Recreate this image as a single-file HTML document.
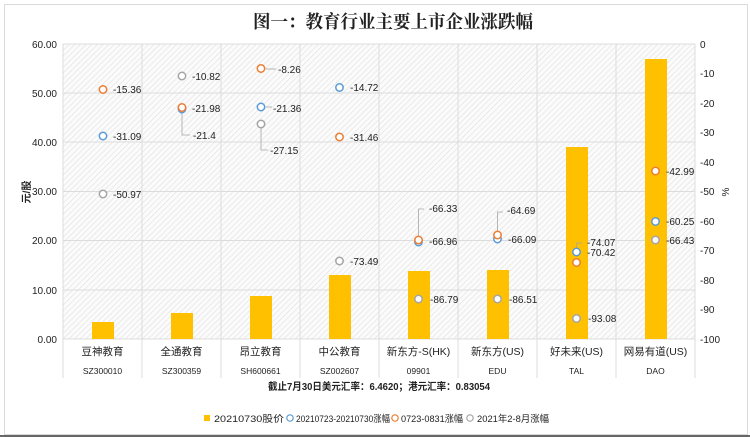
<!DOCTYPE html>
<html><head><meta charset="utf-8"><style>
html,body{margin:0;padding:0;background:#fff;}
svg{display:block;font-family:"Liberation Sans","Noto Sans CJK SC",sans-serif;}
</style></head><body>
<svg width="750" height="437" viewBox="0 0 750 437" xmlns="http://www.w3.org/2000/svg">
<defs>
<pattern id="h" width="4" height="4" patternUnits="userSpaceOnUse" patternTransform="rotate(45)">
<rect width="4" height="4" fill="#fbfbfb"/><line x1="0" y1="0" x2="0" y2="4" stroke="#e0e0e0" stroke-width="1.2"/>
</pattern>
</defs>
<rect x="0" y="0" width="750" height="437" fill="#fff"/>
<rect x="4.5" y="4.5" width="743" height="430" fill="none" stroke="#d9d9d9"/>
<line x1="0" y1="436" x2="750" y2="436" stroke="#333" stroke-width="1.5"/>
<text x="253" y="28" textLength="280" lengthAdjust="spacingAndGlyphs" font-family="'Liberation Serif','Noto Serif CJK SC',serif" font-weight="bold" font-size="18" fill="#222">图一：教育行业主要上市企业涨跌幅</text>
<rect x="63" y="44" width="632" height="295" fill="url(#h)"/>
<g stroke="#dcdcdc" stroke-width="1">
<line x1="63" y1="44" x2="695" y2="44"/><line x1="63" y1="93" x2="695" y2="93"/><line x1="63" y1="142" x2="695" y2="142"/><line x1="63" y1="191.5" x2="695" y2="191.5"/><line x1="63" y1="240.5" x2="695" y2="240.5"/><line x1="63" y1="290" x2="695" y2="290"/><line x1="63" y1="339" x2="695" y2="339"/>
<line x1="63" y1="44" x2="63" y2="378"/><line x1="142" y1="44" x2="142" y2="378"/><line x1="221" y1="44" x2="221" y2="378"/><line x1="300" y1="44" x2="300" y2="378"/><line x1="379" y1="44" x2="379" y2="378"/><line x1="458" y1="44" x2="458" y2="378"/><line x1="537" y1="44" x2="537" y2="378"/><line x1="616" y1="44" x2="616" y2="378"/><line x1="695" y1="44" x2="695" y2="378"/>
</g>
<g fill="#ffc000">
<rect x="92" y="322" width="22" height="17"/><rect x="171" y="313" width="22" height="26"/><rect x="250" y="296" width="22" height="43"/><rect x="329" y="275" width="22" height="64"/><rect x="408" y="271" width="22" height="68"/><rect x="487" y="270" width="22" height="69"/><rect x="566" y="147" width="22" height="192"/><rect x="645" y="59" width="22" height="280"/>
</g>
<g font-size="10" fill="#222" text-anchor="end">
<text x="57" y="48">60.00</text><text x="57" y="97">50.00</text><text x="57" y="146">40.00</text><text x="57" y="195">30.00</text><text x="57" y="244">20.00</text><text x="57" y="294">10.00</text><text x="57" y="343">0.00</text>
</g>
<g font-size="10" fill="#222">
<text x="700" y="48">0</text><text x="700" y="77">-10</text><text x="700" y="107">-20</text><text x="700" y="136">-30</text><text x="700" y="166">-40</text><text x="700" y="195">-50</text><text x="700" y="225">-60</text><text x="700" y="254">-70</text><text x="700" y="284">-80</text><text x="700" y="313">-90</text><text x="700" y="343">-100</text>
</g>
<text x="0" y="0" font-size="10" font-weight="bold" fill="#222" transform="translate(30,192) rotate(-90)" text-anchor="middle">元/股</text>
<text x="0" y="0" font-size="10" fill="#222" transform="translate(729,192) rotate(-90)" text-anchor="middle">%</text>
<g font-size="10.5" fill="#222" text-anchor="middle">
<text x="102.5" y="355">豆神教育</text><text x="181.5" y="355">全通教育</text><text x="260.5" y="355">昂立教育</text><text x="339.5" y="355">中公教育</text><text x="418.5" y="355">新东方-S(HK)</text><text x="497.5" y="355">新东方(US)</text><text x="576.5" y="355">好未来(US)</text><text x="655.5" y="355">网易有道(US)</text>
</g>
<g font-size="8.5" fill="#222" text-anchor="middle">
<text x="102.5" y="374">SZ300010</text><text x="181.5" y="374">SZ300359</text><text x="260.5" y="374">SH600661</text><text x="339.5" y="374">SZ002607</text><text x="418.5" y="374">09901</text><text x="497.5" y="374">EDU</text><text x="576.5" y="374">TAL</text><text x="655.5" y="374">DAO</text>
</g>
<text x="268" y="390" textLength="222" lengthAdjust="spacingAndGlyphs" font-size="10" font-weight="bold" fill="#222">截止7月30日美元汇率：6.4620；港元汇率：0.83054</text>
<g fill="none" stroke="#a6a6a6" stroke-width="0.8">
<polyline points="182,110 182,135 190,135"/>
<polyline points="261,126 261,150 268,150"/>
<polyline points="418.5,237 418.5,209 424,209"/>
<polyline points="497.5,232 497.5,212 503,212"/>
<polyline points="576.5,250 576.5,243 582,243"/>
<line x1="266" y1="69" x2="276" y2="69"/><line x1="266" y1="107" x2="272" y2="107"/>
</g>
<g fill="#fff" stroke-width="1.5">
<circle cx="103" cy="89.5" r="3.7" stroke="#ed7d31"/><circle cx="103" cy="136" r="3.7" stroke="#5b9bd5"/><circle cx="103" cy="194" r="3.7" stroke="#a5a5a5"/>
<circle cx="182" cy="76" r="3.7" stroke="#a5a5a5"/><circle cx="182" cy="109" r="3.7" stroke="#5b9bd5"/><circle cx="182" cy="107.5" r="3.7" stroke="#ed7d31"/>
<circle cx="261" cy="124" r="3.7" stroke="#a5a5a5"/><circle cx="261" cy="107" r="3.7" stroke="#5b9bd5"/><circle cx="261" cy="68.5" r="3.7" stroke="#ed7d31"/>
<circle cx="339.5" cy="87.5" r="3.7" stroke="#5b9bd5"/><circle cx="339.5" cy="137" r="3.7" stroke="#ed7d31"/><circle cx="339.5" cy="261" r="3.7" stroke="#a5a5a5"/>
<circle cx="418.5" cy="299" r="3.7" stroke="#a5a5a5"/><circle cx="418.5" cy="242" r="3.7" stroke="#5b9bd5"/><circle cx="418.5" cy="240" r="3.7" stroke="#ed7d31"/>
<circle cx="497.5" cy="299" r="3.7" stroke="#a5a5a5"/><circle cx="497.5" cy="239" r="3.7" stroke="#5b9bd5"/><circle cx="497.5" cy="235" r="3.7" stroke="#ed7d31"/>
<circle cx="576.5" cy="318.5" r="3.7" stroke="#a5a5a5"/><circle cx="576.5" cy="262.5" r="3.7" stroke="#ed7d31"/><circle cx="576.5" cy="252" r="3.7" stroke="#5b9bd5"/>
<circle cx="655.5" cy="171" r="3.7" stroke="#ed7d31"/><circle cx="655.5" cy="221.5" r="3.7" stroke="#5b9bd5"/><circle cx="655.5" cy="240" r="3.7" stroke="#a5a5a5"/>
</g>
<g font-size="10" fill="#222">
<text x="113" y="93">-15.36</text><text x="113" y="140">-31.09</text><text x="113" y="198">-50.97</text>
<text x="192" y="80">-10.82</text><text x="192" y="112">-21.98</text><text x="193" y="139">-21.4</text>
<text x="278" y="73">-8.26</text><text x="273" y="112">-21.36</text><text x="270" y="154">-27.15</text>
<text x="350" y="91">-14.72</text><text x="350" y="141">-31.46</text><text x="350" y="265">-73.49</text>
<text x="429" y="212">-66.33</text><text x="429" y="245">-66.96</text><text x="430" y="303">-86.79</text>
<text x="507" y="214">-64.69</text><text x="508" y="243">-66.09</text><text x="509" y="303">-86.51</text>
<text x="587" y="246">-74.07</text><text x="587" y="256">-70.42</text><text x="588" y="322">-93.08</text>
<text x="666" y="175">-42.99</text><text x="666" y="225">-60.25</text><text x="666" y="244">-66.43</text>
</g>
<g font-size="9.5" fill="#222">
<rect x="204" y="415" width="6" height="6" fill="#ffc000"/><text x="214" y="422" textLength="70" lengthAdjust="spacingAndGlyphs">20210730股价</text>
<circle cx="290" cy="418" r="3.2" fill="none" stroke="#5b9bd5" stroke-width="1.2"/><text x="296" y="422" textLength="94" lengthAdjust="spacingAndGlyphs">20210723-20210730涨幅</text>
<circle cx="395" cy="418" r="3.2" fill="none" stroke="#ed7d31" stroke-width="1.2"/><text x="401" y="422" textLength="62" lengthAdjust="spacingAndGlyphs">0723-0831涨幅</text>
<circle cx="470" cy="418" r="3.2" fill="none" stroke="#a5a5a5" stroke-width="1.2"/><text x="477" y="422" textLength="72" lengthAdjust="spacingAndGlyphs">2021年2-8月涨幅</text>
</g>
</svg>
</body></html>
